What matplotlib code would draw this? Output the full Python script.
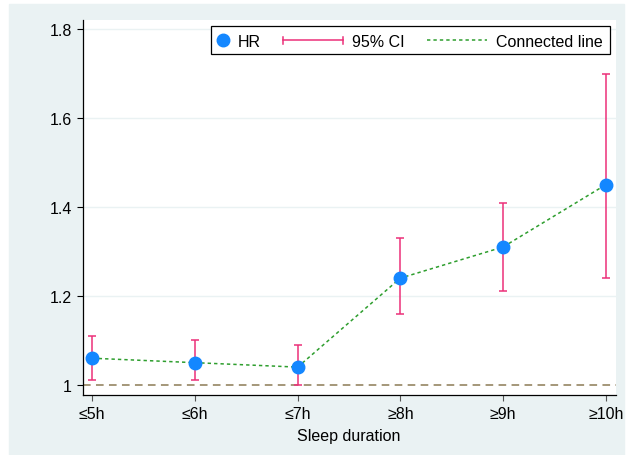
import matplotlib.pyplot as plt
from matplotlib.patches import Rectangle
from matplotlib.lines import Line2D

plt.rcParams['font.family'] = ['Liberation Sans', 'DejaVu Sans']

# Hazard ratios by sleep duration
labels = ['≤5h', '≤6h', '≤7h', '≥8h', '≥9h', '≥10h']
hr = [1.06, 1.05, 1.04, 1.24, 1.31, 1.45]
ci_low = [1.01, 1.01, 1.00, 1.16, 1.21, 1.24]
ci_high = [1.11, 1.10, 1.09, 1.33, 1.41, 1.70]
yticks = [1, 1.2, 1.4, 1.6, 1.8]
ytick_labels = ['1', '1.2', '1.4', '1.6', '1.8']

bg = '#EAF2F3'
pink = '#EC3079'
blue = '#1487FF'
green = '#2E9E2E'
fs = 11.5

W, H = 626, 456


def fx(px):
    return px / W


def fy(py):
    return 1 - py / H


fig = plt.figure(figsize=(W / 100, H / 100), dpi=100)
fig.add_artist(Rectangle((fx(9), 0), fx(615), fy(5),
                         transform=fig.transFigure, color=bg, zorder=-10))
ax = fig.add_axes([fx(82.5), fy(395.7), fx(533.2), 375 / H])
ax.set_facecolor('white')

x = list(range(len(labels)))
yerr = [[h - l for h, l in zip(hr, ci_low)], [u - h for h, u in zip(hr, ci_high)]]

ax.axhline(1, color='#8C7A55', ls=(0, (5, 3.5)), lw=1.1, zorder=1)
for t in yticks[1:]:
    ax.axhline(t, color=bg, lw=1, zorder=0)

ax.plot(x, hr, ls=(0, (2.2, 2)), color=green, lw=1.1, zorder=2)
ax.errorbar(x, hr, yerr=yerr, fmt='none', ecolor=pink, elinewidth=1.1,
            capsize=2.6, capthick=1.1, zorder=3)
ax.plot(x, hr, 'o', color=blue, ms=9, zorder=4)

ax.set_xlim(-0.095, 5.097)
ax.set_ylim(0.978, 1.821)
ax.set_xticks(x)
ax.set_xticklabels(labels, fontsize=fs)
ax.set_yticks(yticks)
ax.set_yticklabels(ytick_labels, fontsize=fs)
ax.set_xlabel('Sleep duration', fontsize=fs, labelpad=5)
ax.tick_params(axis='y', direction='out', length=4, width=0.8, pad=3.5)
ax.tick_params(axis='x', direction='out', length=4.5, width=0.8, pad=3.5,
               color='#555555')
for s in ['top', 'right']:
    ax.spines[s].set_visible(False)
for s in ['left', 'bottom']:
    ax.spines[s].set_linewidth(0.9)

# legend drawn by hand: Stata-style keys of unequal width
ly = 41
fig.add_artist(Rectangle((fx(211), fy(55)), fx(399), 28 / H, transform=fig.transFigure,
                         facecolor='white', edgecolor='black', lw=0.9, zorder=5))
fig.add_artist(Line2D([fx(223)], [fy(ly)], marker='o', ms=9, color=blue, ls='none',
                      transform=fig.transFigure, zorder=6))
fig.add_artist(Line2D([fx(283), fx(343)], [fy(ly), fy(ly)], color=pink, lw=1.1,
                      transform=fig.transFigure, zorder=6))
for cx in (283, 343):
    fig.add_artist(Line2D([fx(cx), fx(cx)], [fy(ly - 3.5), fy(ly + 3.5)], color=pink,
                          lw=1.1, transform=fig.transFigure, zorder=6))
fig.add_artist(Line2D([fx(427), fx(487)], [fy(ly), fy(ly)], color=green, lw=1.1,
                      ls=(0, (2.2, 2)), transform=fig.transFigure, zorder=6))
for tx, txt in [(238, 'HR'), (352, '95% CI'), (496, 'Connected line')]:
    fig.text(fx(tx), fy(ly), txt, fontsize=fs, va='center_baseline', ha='left', zorder=7)

fig.savefig('out.png', dpi=100)
